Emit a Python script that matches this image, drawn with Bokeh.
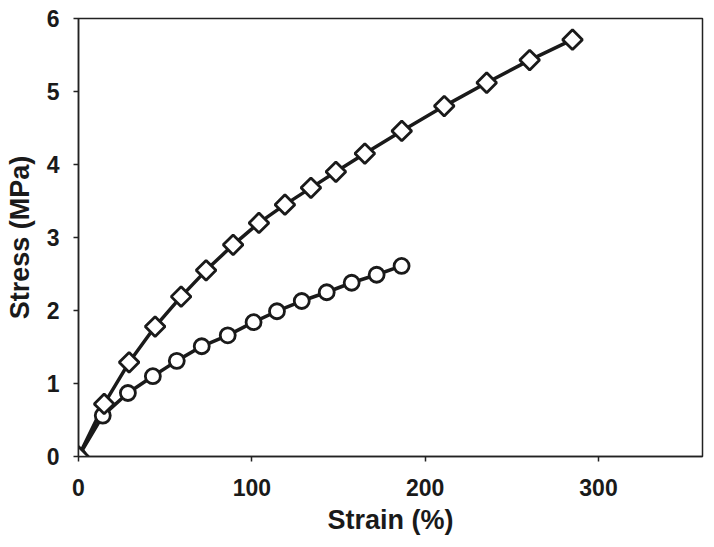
import numpy as np
from bokeh.plotting import figure
from bokeh.models import Range1d, FixedTicker
from bokeh.embed import file_html
from bokeh.resources import INLINE

# Series 1 (diamonds)
strain_d = [0, 14.8, 29.2, 44.2, 59.2, 73.6, 89.2, 104.1, 119.1, 134.1, 148.5,
            165.2, 186.5, 211.0, 235.5, 260.3, 285.0]
stress_d = [0, 0.72, 1.29, 1.78, 2.19, 2.55, 2.90, 3.20, 3.45, 3.68, 3.90,
            4.15, 4.46, 4.80, 5.12, 5.43, 5.71]

# Series 2 (circles)
strain_c = [0, 14.0, 28.5, 42.9, 56.7, 71.1, 86.1, 101.0, 114.5, 128.8, 143.2,
            157.6, 172.0, 186.4]
stress_c = [0, 0.56, 0.87, 1.10, 1.31, 1.51, 1.66, 1.84, 1.99, 2.13, 2.25,
            2.38, 2.49, 2.61]

x_ticks = [0, 100, 200, 300]
y_ticks = [0, 1, 2, 3, 4, 5, 6]

p = figure(width=706, height=539, output_backend="svg", toolbar_location=None,
           x_range=Range1d(0, 360), y_range=Range1d(0, 6),
           min_border_left=78, min_border_right=4, min_border_top=18,
           min_border_bottom=83)

p.xgrid.visible = False
p.ygrid.visible = False
p.outline_line_color = "#222222"
p.outline_line_width = 1.5
p.background_fill_color = "white"
p.border_fill_color = "white"

FONT = "Liberation Sans"
for ax in (p.xaxis[0], p.yaxis[0]):
    ax.axis_line_color = "#222222"
    ax.axis_line_width = 1.5
    ax.major_tick_line_color = "#222222"
    ax.major_tick_line_width = 1.5
    ax.major_tick_out = 5
    ax.major_tick_in = 0
    ax.minor_tick_line_color = None
    ax.major_label_text_font = FONT
    ax.major_label_text_font_style = "bold"
    ax.major_label_text_font_size = "23px"
    ax.major_label_text_color = "#1a1a1a"
    ax.axis_label_text_font = FONT
    ax.axis_label_text_font_style = "bold"
    ax.axis_label_text_font_size = "27px"
    ax.axis_label_text_color = "#1a1a1a"

p.xaxis.ticker = FixedTicker(ticks=x_ticks)
p.yaxis.ticker = FixedTicker(ticks=y_ticks)
p.xaxis.axis_label = "Strain (%)"
p.yaxis.axis_label = "Stress (MPa)"
p.xaxis.major_label_standoff = 17
p.xaxis.axis_label_standoff = 6
p.yaxis.major_label_standoff = 14
p.yaxis.axis_label_standoff = 9

p.line(strain_d, stress_d, line_color="#1a1a1a", line_width=3.5)
p.line(strain_c, stress_c, line_color="#1a1a1a", line_width=3.5)
p.scatter(strain_c, stress_c, marker="circle", size=15, fill_color="white",
          line_color="#1a1a1a", line_width=2.8)
p.scatter(strain_d, stress_d, marker="square", angle=np.pi / 4, size=14,
          fill_color="white", line_color="#1a1a1a", line_width=2.8)

open("out.html", "w").write(file_html(p, INLINE))
